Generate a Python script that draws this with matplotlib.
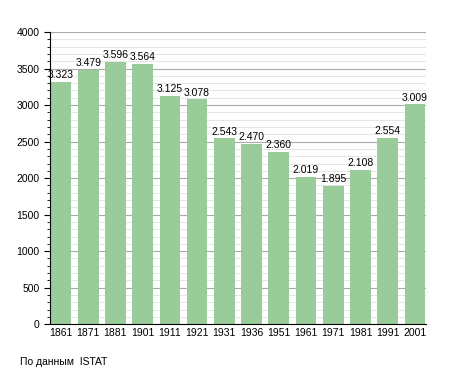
import matplotlib
matplotlib.use('Agg')
import matplotlib.pyplot as plt
from matplotlib.ticker import MultipleLocator

years = ['1861', '1871', '1881', '1901', '1911', '1921', '1931',
         '1936', '1951', '1961', '1971', '1981', '1991', '2001']
population = [3323, 3479, 3596, 3564, 3125, 3078, 2543,
              2470, 2360, 2019, 1895, 2108, 2554, 3009]

plt.rcParams['font.family'] = ['Liberation Sans', 'DejaVu Sans']

fig = plt.figure(figsize=(4.55, 3.73), dpi=100)
ax = fig.add_axes([0.110, 0.131, 0.826, 0.783])

x = list(range(len(years)))
ax.bar(x, population, width=0.76, color='#99CC99', zorder=2)

for xi, v in zip(x, population):
    lbl = f'{v/1000:.3f}'
    ax.text(xi, v + 25, lbl, ha='center', va='bottom', fontsize=7.5, zorder=3)

ax.set_xlim(-0.4, 13.4)
ax.set_ylim(0, 4000)
ax.set_xticks(x)
ax.set_xticklabels(years, fontsize=7.5)
ax.yaxis.set_major_locator(MultipleLocator(500))
ax.yaxis.set_minor_locator(MultipleLocator(100))
ax.tick_params(axis='y', labelsize=7.5, length=4, width=0.8)
ax.tick_params(axis='y', which='minor', length=2, width=0.6)
ax.tick_params(axis='x', length=0, pad=3)

ax.grid(axis='y', which='major', color='#aaaaaa', lw=0.8, zorder=0)
ax.grid(axis='y', which='minor', color='#e0e0e0', lw=0.6, zorder=0)
ax.set_axisbelow(True)
for s in ['top', 'right']:
    ax.spines[s].set_visible(False)

fig.text(20 / 455, 1 - 362 / 373, 'По данным  ISTAT', fontsize=7.5, va='center')

fig.savefig('out.png', dpi=100)
